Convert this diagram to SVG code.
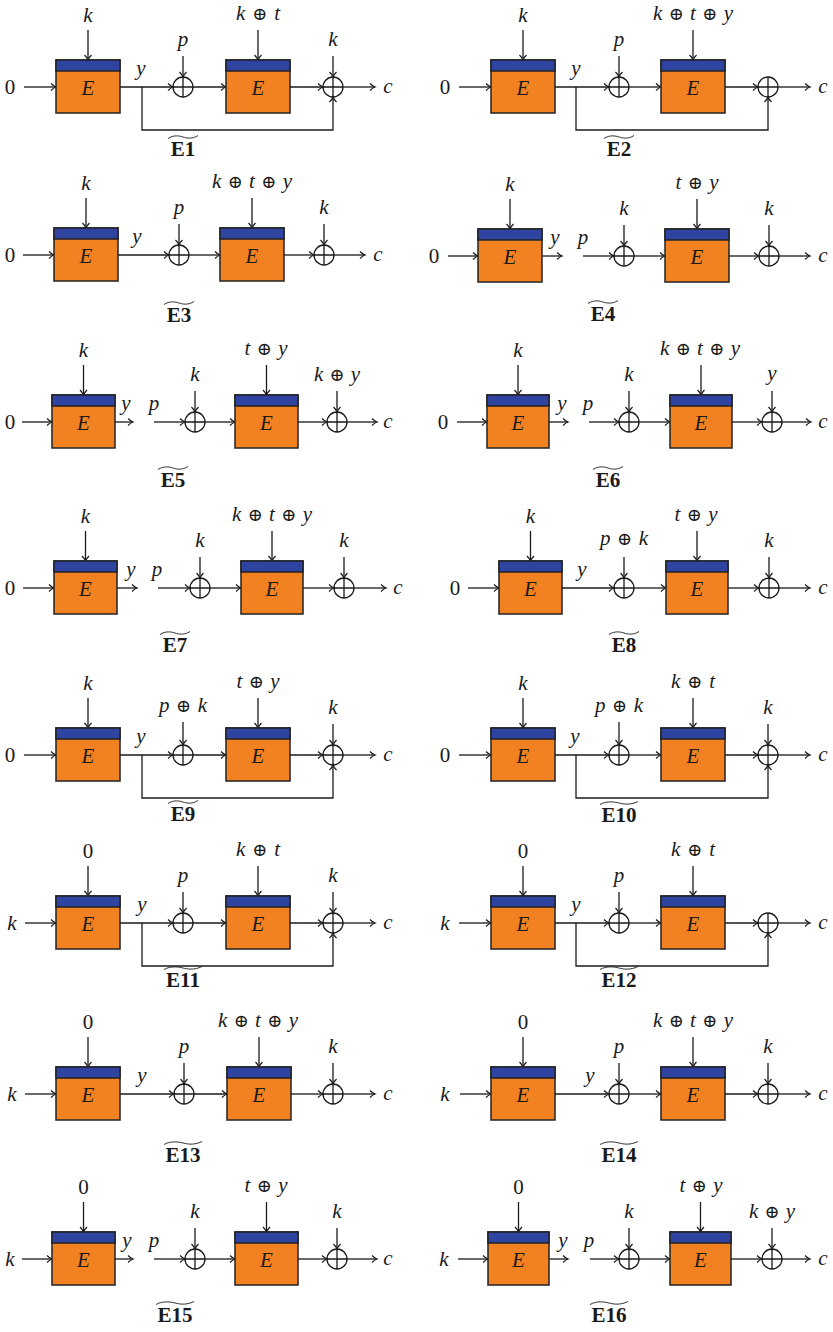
<svg xmlns="http://www.w3.org/2000/svg" width="833" height="1332" viewBox="0 0 833 1332">
<style>
.ln{fill:none;stroke:#1a1a1a;stroke-width:1.3}
.ar{fill:none;stroke:#1a1a1a;stroke-width:1.3;marker-end:url(#ah)}
.body{fill:#F28221;stroke:#222;stroke-width:1.5}
.band{fill:#2E44A0;stroke:#222;stroke-width:1.5}
.xc{fill:none;stroke:#1a1a1a;stroke-width:1.3}
text{font-family:'Liberation Serif','Times New Roman','DejaVu Serif',serif;fill:#1a1a1a;text-anchor:middle}
.m{font-style:italic;font-size:21px}
.n{font-size:21px}
.o{font-family:'DejaVu Serif','DejaVu Sans',serif;font-style:normal;font-size:18px}
.t{font-weight:bold;font-size:21px}
.tl{fill:none;stroke:#1a1a1a;stroke-width:0.9}
</style>
<defs>
<marker id="ah" viewBox="-6 -5 8 10" markerWidth="8" markerHeight="10" refX="0" refY="0" orient="auto" markerUnits="userSpaceOnUse">
<path d="M-5,-3.5 Q-2,-0.6 0,0 Q-2,0.6 -5,3.5" fill="none" stroke="#1a1a1a" stroke-width="1.2"/>
</marker>
</defs>

<!-- E1 -->
<g id="E1">
<g id="E1-conn">
<line class="ar" x1="24" y1="87" x2="56" y2="87"/>
<line class="ar" x1="88" y1="30" x2="88" y2="60"/>
<line class="ar" x1="120" y1="87" x2="173" y2="87"/>
<line class="ar" x1="183" y1="56" x2="183" y2="77"/>
<line class="ar" x1="193" y1="87" x2="226" y2="87"/>
<line class="ar" x1="258" y1="30" x2="258" y2="60"/>
<line class="ar" x1="290" y1="87" x2="323" y2="87"/>
<line class="ar" x1="333" y1="56" x2="333" y2="77"/>
<line class="ar" x1="343" y1="87" x2="375" y2="87"/>
<path class="ar" d="M142,87 V130 H333 V97"/>
</g>
<g id="E1-b1"><rect class="body" x="56" y="60" width="64" height="53"/><rect class="band" x="56" y="60" width="64" height="11"/><text class="m" x="88" y="95">E</text></g>
<g id="E1-x1"><circle class="xc" cx="183" cy="87" r="10"/><path class="ln" d="M173,87 H193 M183,77 V97"/></g>
<g id="E1-b2"><rect class="body" x="226" y="60" width="64" height="53"/><rect class="band" x="226" y="60" width="64" height="11"/><text class="m" x="258" y="95">E</text></g>
<g id="E1-x2"><circle class="xc" cx="333" cy="87" r="10"/><path class="ln" d="M323,87 H343 M333,77 V97"/></g>
<text class="n" x="10" y="94">0</text>
<text class="m" x="88" y="22">k</text>
<text class="m" x="141" y="75">y</text>
<text class="m" x="183" y="46">p</text>
<text class="m" x="258" y="20" textLength="44" lengthAdjust="spacing">k <tspan class="o">⊕</tspan> t</text>
<text class="m" x="333" y="46">k</text>
<text class="m" x="388" y="93">c</text>
<path class="tl" d="M168,138.5 C174,134.5 180,136 183,137 S192,139.5 198,135.5"/>
<text class="t" x="183" y="156">E1</text>
</g>

<!-- E2 -->
<g id="E2">
<g id="E2-conn">
<line class="ar" x1="459" y1="87" x2="491" y2="87"/>
<line class="ar" x1="523" y1="30" x2="523" y2="60"/>
<line class="ar" x1="555" y1="87" x2="609" y2="87"/>
<line class="ar" x1="619" y1="56" x2="619" y2="77"/>
<line class="ar" x1="629" y1="87" x2="661" y2="87"/>
<line class="ar" x1="693" y1="30" x2="693" y2="60"/>
<line class="ar" x1="725" y1="87" x2="758" y2="87"/>
<line class="ar" x1="778" y1="87" x2="810" y2="87"/>
<path class="ar" d="M576,87 V130 H768 V97"/>
</g>
<g id="E2-b1"><rect class="body" x="491" y="60" width="64" height="53"/><rect class="band" x="491" y="60" width="64" height="11"/><text class="m" x="523" y="95">E</text></g>
<g id="E2-x1"><circle class="xc" cx="619" cy="87" r="10"/><path class="ln" d="M609,87 H629 M619,77 V97"/></g>
<g id="E2-b2"><rect class="body" x="661" y="60" width="64" height="53"/><rect class="band" x="661" y="60" width="64" height="11"/><text class="m" x="693" y="95">E</text></g>
<g id="E2-x2"><circle class="xc" cx="768" cy="87" r="10"/><path class="ln" d="M758,87 H778 M768,77 V97"/></g>
<text class="n" x="445" y="94">0</text>
<text class="m" x="523" y="22">k</text>
<text class="m" x="576" y="75">y</text>
<text class="m" x="619" y="46">p</text>
<text class="m" x="693" y="20" textLength="80" lengthAdjust="spacing">k <tspan class="o">⊕</tspan> t <tspan class="o">⊕</tspan> y</text>
<text class="m" x="823" y="93">c</text>
<path class="tl" d="M604,138.5 C610,134.5 616,136 619,137 S628,139.5 634,135.5"/>
<text class="t" x="619" y="156">E2</text>
</g>

<!-- E3 -->
<g id="E3">
<g id="E3-conn">
<line class="ar" x1="23" y1="255" x2="54" y2="255"/>
<line class="ar" x1="86" y1="198" x2="86" y2="228"/>
<line class="ar" x1="118" y1="255" x2="169" y2="255"/>
<line class="ar" x1="179" y1="224" x2="179" y2="245"/>
<line class="ar" x1="189" y1="255" x2="220" y2="255"/>
<line class="ar" x1="252" y1="198" x2="252" y2="228"/>
<line class="ar" x1="284" y1="255" x2="314" y2="255"/>
<line class="ar" x1="324" y1="224" x2="324" y2="245"/>
<line class="ar" x1="334" y1="255" x2="365" y2="255"/>
</g>
<g id="E3-b1"><rect class="body" x="54" y="228" width="64" height="53"/><rect class="band" x="54" y="228" width="64" height="11"/><text class="m" x="86" y="263">E</text></g>
<g id="E3-x1"><circle class="xc" cx="179" cy="255" r="10"/><path class="ln" d="M169,255 H189 M179,245 V265"/></g>
<g id="E3-b2"><rect class="body" x="220" y="228" width="64" height="53"/><rect class="band" x="220" y="228" width="64" height="11"/><text class="m" x="252" y="263">E</text></g>
<g id="E3-x2"><circle class="xc" cx="324" cy="255" r="10"/><path class="ln" d="M314,255 H334 M324,245 V265"/></g>
<text class="n" x="10" y="262">0</text>
<text class="m" x="86" y="190">k</text>
<text class="m" x="137" y="243">y</text>
<text class="m" x="179" y="214">p</text>
<text class="m" x="252" y="188" textLength="80" lengthAdjust="spacing">k <tspan class="o">⊕</tspan> t <tspan class="o">⊕</tspan> y</text>
<text class="m" x="324" y="214">k</text>
<text class="m" x="378" y="261">c</text>
<path class="tl" d="M164,304.5 C170,300.5 176,302 179,303 S188,305.5 194,301.5"/>
<text class="t" x="179" y="322">E3</text>
</g>

<!-- E4 -->
<g id="E4">
<g id="E4-conn">
<line class="ar" x1="448" y1="256" x2="478" y2="256"/>
<line class="ar" x1="510" y1="199" x2="510" y2="229"/>
<line class="ar" x1="542" y1="256" x2="562" y2="256"/>
<line class="ar" x1="583" y1="256" x2="614" y2="256"/>
<line class="ar" x1="624" y1="225" x2="624" y2="246"/>
<line class="ar" x1="634" y1="256" x2="665" y2="256"/>
<line class="ar" x1="697" y1="199" x2="697" y2="229"/>
<line class="ar" x1="729" y1="256" x2="759" y2="256"/>
<line class="ar" x1="769" y1="225" x2="769" y2="246"/>
<line class="ar" x1="779" y1="256" x2="810" y2="256"/>
</g>
<g id="E4-b1"><rect class="body" x="478" y="229" width="64" height="53"/><rect class="band" x="478" y="229" width="64" height="11"/><text class="m" x="510" y="264">E</text></g>
<g id="E4-x1"><circle class="xc" cx="624" cy="256" r="10"/><path class="ln" d="M614,256 H634 M624,246 V266"/></g>
<g id="E4-b2"><rect class="body" x="665" y="229" width="64" height="53"/><rect class="band" x="665" y="229" width="64" height="11"/><text class="m" x="697" y="264">E</text></g>
<g id="E4-x2"><circle class="xc" cx="769" cy="256" r="10"/><path class="ln" d="M759,256 H779 M769,246 V266"/></g>
<text class="n" x="434" y="263">0</text>
<text class="m" x="510" y="191">k</text>
<text class="m" x="555" y="244">y</text>
<text class="m" x="583" y="244">p</text>
<text class="m" x="624" y="215">k</text>
<text class="m" x="697" y="189" textLength="43" lengthAdjust="spacing">t <tspan class="o">⊕</tspan> y</text>
<text class="m" x="769" y="215">k</text>
<text class="m" x="823" y="262">c</text>
<path class="tl" d="M588,303.5 C594,299.5 600,301 603,302 S612,304.5 618,300.5"/>
<text class="t" x="603" y="321">E4</text>
</g>

<!-- E5 -->
<g id="E5">
<g id="E5-conn">
<line class="ar" x1="22" y1="422" x2="52" y2="422"/>
<line class="ar" x1="83.5" y1="365" x2="83.5" y2="395"/>
<line class="ar" x1="115" y1="422" x2="133" y2="422"/>
<line class="ar" x1="154" y1="422" x2="185" y2="422"/>
<line class="ar" x1="195" y1="391" x2="195" y2="412"/>
<line class="ar" x1="205" y1="422" x2="235" y2="422"/>
<line class="ar" x1="266.5" y1="365" x2="266.5" y2="395"/>
<line class="ar" x1="298" y1="422" x2="327" y2="422"/>
<line class="ar" x1="337" y1="391" x2="337" y2="412"/>
<line class="ar" x1="347" y1="422" x2="377" y2="422"/>
</g>
<g id="E5-b1"><rect class="body" x="52" y="395" width="63" height="53"/><rect class="band" x="52" y="395" width="63" height="11"/><text class="m" x="83.5" y="430">E</text></g>
<g id="E5-x1"><circle class="xc" cx="195" cy="422" r="10"/><path class="ln" d="M185,422 H205 M195,412 V432"/></g>
<g id="E5-b2"><rect class="body" x="235" y="395" width="63" height="53"/><rect class="band" x="235" y="395" width="63" height="11"/><text class="m" x="266.5" y="430">E</text></g>
<g id="E5-x2"><circle class="xc" cx="337" cy="422" r="10"/><path class="ln" d="M327,422 H347 M337,412 V432"/></g>
<text class="n" x="10" y="429">0</text>
<text class="m" x="83.5" y="357">k</text>
<text class="m" x="126" y="410">y</text>
<text class="m" x="154" y="410">p</text>
<text class="m" x="195" y="381">k</text>
<text class="m" x="266" y="355" textLength="43" lengthAdjust="spacing">t <tspan class="o">⊕</tspan> y</text>
<text class="m" x="337" y="381" textLength="46" lengthAdjust="spacing">k <tspan class="o">⊕</tspan> y</text>
<text class="m" x="388" y="428">c</text>
<path class="tl" d="M158,469.5 C164,465.5 170,467 173,468 S182,470.5 188,466.5"/>
<text class="t" x="173" y="487">E5</text>
</g>

<!-- E6 -->
<g id="E6">
<g id="E6-conn">
<line class="ar" x1="457" y1="422" x2="487" y2="422"/>
<line class="ar" x1="518" y1="365" x2="518" y2="395"/>
<line class="ar" x1="549" y1="422" x2="568" y2="422"/>
<line class="ar" x1="589" y1="422" x2="619" y2="422"/>
<line class="ar" x1="629" y1="391" x2="629" y2="412"/>
<line class="ar" x1="639" y1="422" x2="670" y2="422"/>
<line class="ar" x1="701" y1="365" x2="701" y2="395"/>
<line class="ar" x1="732" y1="422" x2="762" y2="422"/>
<line class="ar" x1="772" y1="391" x2="772" y2="412"/>
<line class="ar" x1="782" y1="422" x2="811" y2="422"/>
</g>
<g id="E6-b1"><rect class="body" x="487" y="395" width="62" height="53"/><rect class="band" x="487" y="395" width="62" height="11"/><text class="m" x="518" y="430">E</text></g>
<g id="E6-x1"><circle class="xc" cx="629" cy="422" r="10"/><path class="ln" d="M619,422 H639 M629,412 V432"/></g>
<g id="E6-b2"><rect class="body" x="670" y="395" width="62" height="53"/><rect class="band" x="670" y="395" width="62" height="11"/><text class="m" x="701" y="430">E</text></g>
<g id="E6-x2"><circle class="xc" cx="772" cy="422" r="10"/><path class="ln" d="M762,422 H782 M772,412 V432"/></g>
<text class="n" x="443" y="429">0</text>
<text class="m" x="518" y="357">k</text>
<text class="m" x="562" y="410">y</text>
<text class="m" x="588" y="410">p</text>
<text class="m" x="629" y="381">k</text>
<text class="m" x="700" y="355" textLength="80" lengthAdjust="spacing">k <tspan class="o">⊕</tspan> t <tspan class="o">⊕</tspan> y</text>
<text class="m" x="772" y="380">y</text>
<text class="m" x="823" y="428">c</text>
<path class="tl" d="M593,469.5 C599,465.5 605,467 608,468 S617,470.5 623,466.5"/>
<text class="t" x="608" y="487">E6</text>
</g>

<!-- E7 -->
<g id="E7">
<g id="E7-conn">
<line class="ar" x1="23" y1="588" x2="54" y2="588"/>
<line class="ar" x1="85.5" y1="531" x2="85.5" y2="561"/>
<line class="ar" x1="117" y1="588" x2="137" y2="588"/>
<line class="ar" x1="158" y1="588" x2="190" y2="588"/>
<line class="ar" x1="200" y1="557" x2="200" y2="578"/>
<line class="ar" x1="210" y1="588" x2="241" y2="588"/>
<line class="ar" x1="272" y1="531" x2="272" y2="561"/>
<line class="ar" x1="303" y1="588" x2="334" y2="588"/>
<line class="ar" x1="344" y1="557" x2="344" y2="578"/>
<line class="ar" x1="354" y1="588" x2="386" y2="588"/>
</g>
<g id="E7-b1"><rect class="body" x="54" y="561" width="63" height="53"/><rect class="band" x="54" y="561" width="63" height="11"/><text class="m" x="85.5" y="596">E</text></g>
<g id="E7-x1"><circle class="xc" cx="200" cy="588" r="10"/><path class="ln" d="M190,588 H210 M200,578 V598"/></g>
<g id="E7-b2"><rect class="body" x="241" y="561" width="62" height="53"/><rect class="band" x="241" y="561" width="62" height="11"/><text class="m" x="272" y="596">E</text></g>
<g id="E7-x2"><circle class="xc" cx="344" cy="588" r="10"/><path class="ln" d="M334,588 H354 M344,578 V598"/></g>
<text class="n" x="10" y="595">0</text>
<text class="m" x="85.5" y="523">k</text>
<text class="m" x="131" y="576">y</text>
<text class="m" x="157" y="576">p</text>
<text class="m" x="200" y="547">k</text>
<text class="m" x="272" y="521" textLength="80" lengthAdjust="spacing">k <tspan class="o">⊕</tspan> t <tspan class="o">⊕</tspan> y</text>
<text class="m" x="344" y="547">k</text>
<text class="m" x="398" y="594">c</text>
<path class="tl" d="M160,634.5 C166,630.5 172,632 175,633 S184,635.5 190,631.5"/>
<text class="t" x="175" y="652">E7</text>
</g>

<!-- E8 -->
<g id="E8">
<g id="E8-conn">
<line class="ar" x1="468" y1="588" x2="499" y2="588"/>
<line class="ar" x1="530.5" y1="531" x2="530.5" y2="561"/>
<line class="ar" x1="562" y1="588" x2="614" y2="588"/>
<line class="ar" x1="624" y1="557" x2="624" y2="578"/>
<line class="ar" x1="634" y1="588" x2="666" y2="588"/>
<line class="ar" x1="697" y1="531" x2="697" y2="561"/>
<line class="ar" x1="728" y1="588" x2="759" y2="588"/>
<line class="ar" x1="769" y1="557" x2="769" y2="578"/>
<line class="ar" x1="779" y1="588" x2="810" y2="588"/>
</g>
<g id="E8-b1"><rect class="body" x="499" y="561" width="63" height="53"/><rect class="band" x="499" y="561" width="63" height="11"/><text class="m" x="530.5" y="596">E</text></g>
<g id="E8-x1"><circle class="xc" cx="624" cy="588" r="10"/><path class="ln" d="M614,588 H634 M624,578 V598"/></g>
<g id="E8-b2"><rect class="body" x="666" y="561" width="62" height="53"/><rect class="band" x="666" y="561" width="62" height="11"/><text class="m" x="697" y="596">E</text></g>
<g id="E8-x2"><circle class="xc" cx="769" cy="588" r="10"/><path class="ln" d="M759,588 H779 M769,578 V598"/></g>
<text class="n" x="455" y="595">0</text>
<text class="m" x="530.5" y="523">k</text>
<text class="m" x="582" y="576">y</text>
<text class="m" x="624" y="545" textLength="48" lengthAdjust="spacing">p <tspan class="o">⊕</tspan> k</text>
<text class="m" x="696" y="521" textLength="43" lengthAdjust="spacing">t <tspan class="o">⊕</tspan> y</text>
<text class="m" x="769" y="547">k</text>
<text class="m" x="823" y="594">c</text>
<path class="tl" d="M609,634.5 C615,630.5 621,632 624,633 S633,635.5 639,631.5"/>
<text class="t" x="624" y="652">E8</text>
</g>

<!-- E9 -->
<g id="E9">
<g id="E9-conn">
<line class="ar" x1="24" y1="755" x2="56" y2="755"/>
<line class="ar" x1="88" y1="698" x2="88" y2="728"/>
<line class="ar" x1="120" y1="755" x2="173" y2="755"/>
<line class="ar" x1="183" y1="722" x2="183" y2="745"/>
<line class="ar" x1="193" y1="755" x2="226" y2="755"/>
<line class="ar" x1="258" y1="698" x2="258" y2="728"/>
<line class="ar" x1="290" y1="755" x2="323" y2="755"/>
<line class="ar" x1="333" y1="724" x2="333" y2="745"/>
<line class="ar" x1="343" y1="755" x2="375" y2="755"/>
<path class="ar" d="M142,755 V798 H333 V765"/>
</g>
<g id="E9-b1"><rect class="body" x="56" y="728" width="64" height="53"/><rect class="band" x="56" y="728" width="64" height="11"/><text class="m" x="88" y="763">E</text></g>
<g id="E9-x1"><circle class="xc" cx="183" cy="755" r="10"/><path class="ln" d="M173,755 H193 M183,745 V765"/></g>
<g id="E9-b2"><rect class="body" x="226" y="728" width="64" height="53"/><rect class="band" x="226" y="728" width="64" height="11"/><text class="m" x="258" y="763">E</text></g>
<g id="E9-x2"><circle class="xc" cx="333" cy="755" r="10"/><path class="ln" d="M323,755 H343 M333,745 V765"/></g>
<text class="n" x="10" y="762">0</text>
<text class="m" x="88" y="690">k</text>
<text class="m" x="141" y="743">y</text>
<text class="m" x="183" y="712" textLength="48" lengthAdjust="spacing">p <tspan class="o">⊕</tspan> k</text>
<text class="m" x="258" y="688" textLength="43" lengthAdjust="spacing">t <tspan class="o">⊕</tspan> y</text>
<text class="m" x="333" y="714">k</text>
<text class="m" x="388" y="761">c</text>
<path class="tl" d="M168,803.5 C174,799.5 180,801 183,802 S192,804.5 198,800.5"/>
<text class="t" x="183" y="821">E9</text>
</g>

<!-- E10 -->
<g id="E10">
<g id="E10-conn">
<line class="ar" x1="459" y1="755" x2="491" y2="755"/>
<line class="ar" x1="523" y1="698" x2="523" y2="728"/>
<line class="ar" x1="555" y1="755" x2="609" y2="755"/>
<line class="ar" x1="619" y1="722" x2="619" y2="745"/>
<line class="ar" x1="629" y1="755" x2="661" y2="755"/>
<line class="ar" x1="693" y1="698" x2="693" y2="728"/>
<line class="ar" x1="725" y1="755" x2="758" y2="755"/>
<line class="ar" x1="768" y1="724" x2="768" y2="745"/>
<line class="ar" x1="778" y1="755" x2="810" y2="755"/>
<path class="ar" d="M576,755 V798 H768 V765"/>
</g>
<g id="E10-b1"><rect class="body" x="491" y="728" width="64" height="53"/><rect class="band" x="491" y="728" width="64" height="11"/><text class="m" x="523" y="763">E</text></g>
<g id="E10-x1"><circle class="xc" cx="619" cy="755" r="10"/><path class="ln" d="M609,755 H629 M619,745 V765"/></g>
<g id="E10-b2"><rect class="body" x="661" y="728" width="64" height="53"/><rect class="band" x="661" y="728" width="64" height="11"/><text class="m" x="693" y="763">E</text></g>
<g id="E10-x2"><circle class="xc" cx="768" cy="755" r="10"/><path class="ln" d="M758,755 H778 M768,745 V765"/></g>
<text class="n" x="445" y="762">0</text>
<text class="m" x="523" y="690">k</text>
<text class="m" x="575" y="743">y</text>
<text class="m" x="619" y="712" textLength="48" lengthAdjust="spacing">p <tspan class="o">⊕</tspan> k</text>
<text class="m" x="693" y="688" textLength="44" lengthAdjust="spacing">k <tspan class="o">⊕</tspan> t</text>
<text class="m" x="768" y="714">k</text>
<text class="m" x="823" y="761">c</text>
<path class="tl" d="M600,804.5 C607,800.5 615,802 619,803 S630,805.5 638,801.5"/>
<text class="t" x="619" y="822">E10</text>
</g>

<!-- E11 -->
<g id="E11">
<g id="E11-conn">
<line class="ar" x1="25" y1="923" x2="56" y2="923"/>
<line class="ar" x1="88" y1="866" x2="88" y2="896"/>
<line class="ar" x1="120" y1="923" x2="173" y2="923"/>
<line class="ar" x1="183" y1="892" x2="183" y2="913"/>
<line class="ar" x1="193" y1="923" x2="226" y2="923"/>
<line class="ar" x1="258" y1="866" x2="258" y2="896"/>
<line class="ar" x1="290" y1="923" x2="323" y2="923"/>
<line class="ar" x1="333" y1="892" x2="333" y2="913"/>
<line class="ar" x1="343" y1="923" x2="375" y2="923"/>
<path class="ar" d="M142,923 V966 H333 V933"/>
</g>
<g id="E11-b1"><rect class="body" x="56" y="896" width="64" height="53"/><rect class="band" x="56" y="896" width="64" height="11"/><text class="m" x="88" y="931">E</text></g>
<g id="E11-x1"><circle class="xc" cx="183" cy="923" r="10"/><path class="ln" d="M173,923 H193 M183,913 V933"/></g>
<g id="E11-b2"><rect class="body" x="226" y="896" width="64" height="53"/><rect class="band" x="226" y="896" width="64" height="11"/><text class="m" x="258" y="931">E</text></g>
<g id="E11-x2"><circle class="xc" cx="333" cy="923" r="10"/><path class="ln" d="M323,923 H343 M333,913 V933"/></g>
<text class="m" x="12" y="930">k</text>
<text class="n" x="88" y="858">0</text>
<text class="m" x="142" y="911">y</text>
<text class="m" x="183" y="882">p</text>
<text class="m" x="258" y="856" textLength="44" lengthAdjust="spacing">k <tspan class="o">⊕</tspan> t</text>
<text class="m" x="333" y="882">k</text>
<text class="m" x="388" y="929">c</text>
<path class="tl" d="M164,969.5 C171,965.5 179,967 183,968 S194,970.5 202,966.5"/>
<text class="t" x="183" y="987">E11</text>
</g>

<!-- E12 -->
<g id="E12">
<g id="E12-conn">
<line class="ar" x1="459" y1="923" x2="491" y2="923"/>
<line class="ar" x1="523" y1="866" x2="523" y2="896"/>
<line class="ar" x1="555" y1="923" x2="609" y2="923"/>
<line class="ar" x1="619" y1="892" x2="619" y2="913"/>
<line class="ar" x1="629" y1="923" x2="661" y2="923"/>
<line class="ar" x1="693" y1="866" x2="693" y2="896"/>
<line class="ar" x1="725" y1="923" x2="758" y2="923"/>
<line class="ar" x1="778" y1="923" x2="810" y2="923"/>
<path class="ar" d="M576,923 V966 H768 V933"/>
</g>
<g id="E12-b1"><rect class="body" x="491" y="896" width="64" height="53"/><rect class="band" x="491" y="896" width="64" height="11"/><text class="m" x="523" y="931">E</text></g>
<g id="E12-x1"><circle class="xc" cx="619" cy="923" r="10"/><path class="ln" d="M609,923 H629 M619,913 V933"/></g>
<g id="E12-b2"><rect class="body" x="661" y="896" width="64" height="53"/><rect class="band" x="661" y="896" width="64" height="11"/><text class="m" x="693" y="931">E</text></g>
<g id="E12-x2"><circle class="xc" cx="768" cy="923" r="10"/><path class="ln" d="M758,923 H778 M768,913 V933"/></g>
<text class="m" x="445" y="930">k</text>
<text class="n" x="523" y="858">0</text>
<text class="m" x="576" y="911">y</text>
<text class="m" x="619" y="882">p</text>
<text class="m" x="693" y="856" textLength="44" lengthAdjust="spacing">k <tspan class="o">⊕</tspan> t</text>
<text class="m" x="823" y="929">c</text>
<path class="tl" d="M600,969.5 C607,965.5 615,967 619,968 S630,970.5 638,966.5"/>
<text class="t" x="619" y="987">E12</text>
</g>

<!-- E13 -->
<g id="E13">
<g id="E13-conn">
<line class="ar" x1="25" y1="1094" x2="56" y2="1094"/>
<line class="ar" x1="88" y1="1037" x2="88" y2="1067"/>
<line class="ar" x1="120" y1="1094" x2="174" y2="1094"/>
<line class="ar" x1="184" y1="1063" x2="184" y2="1084"/>
<line class="ar" x1="194" y1="1094" x2="227" y2="1094"/>
<line class="ar" x1="259" y1="1037" x2="259" y2="1067"/>
<line class="ar" x1="291" y1="1094" x2="323" y2="1094"/>
<line class="ar" x1="333" y1="1063" x2="333" y2="1084"/>
<line class="ar" x1="343" y1="1094" x2="375" y2="1094"/>
</g>
<g id="E13-b1"><rect class="body" x="56" y="1067" width="64" height="53"/><rect class="band" x="56" y="1067" width="64" height="11"/><text class="m" x="88" y="1102">E</text></g>
<g id="E13-x1"><circle class="xc" cx="184" cy="1094" r="10"/><path class="ln" d="M174,1094 H194 M184,1084 V1104"/></g>
<g id="E13-b2"><rect class="body" x="227" y="1067" width="64" height="53"/><rect class="band" x="227" y="1067" width="64" height="11"/><text class="m" x="259" y="1102">E</text></g>
<g id="E13-x2"><circle class="xc" cx="333" cy="1094" r="10"/><path class="ln" d="M323,1094 H343 M333,1084 V1104"/></g>
<text class="m" x="12" y="1101">k</text>
<text class="n" x="88" y="1029">0</text>
<text class="m" x="142" y="1082">y</text>
<text class="m" x="184" y="1053">p</text>
<text class="m" x="258" y="1027" textLength="80" lengthAdjust="spacing">k <tspan class="o">⊕</tspan> t <tspan class="o">⊕</tspan> y</text>
<text class="m" x="333" y="1053">k</text>
<text class="m" x="388" y="1100">c</text>
<path class="tl" d="M164,1144.5 C171,1140.5 179,1142 183,1143 S194,1145.5 202,1141.5"/>
<text class="t" x="183" y="1162">E13</text>
</g>

<!-- E14 -->
<g id="E14">
<g id="E14-conn">
<line class="ar" x1="460" y1="1094" x2="491" y2="1094"/>
<line class="ar" x1="523" y1="1037" x2="523" y2="1067"/>
<line class="ar" x1="555" y1="1094" x2="609" y2="1094"/>
<line class="ar" x1="619" y1="1063" x2="619" y2="1084"/>
<line class="ar" x1="629" y1="1094" x2="661" y2="1094"/>
<line class="ar" x1="693" y1="1037" x2="693" y2="1067"/>
<line class="ar" x1="725" y1="1094" x2="758" y2="1094"/>
<line class="ar" x1="768" y1="1063" x2="768" y2="1084"/>
<line class="ar" x1="778" y1="1094" x2="810" y2="1094"/>
</g>
<g id="E14-b1"><rect class="body" x="491" y="1067" width="64" height="53"/><rect class="band" x="491" y="1067" width="64" height="11"/><text class="m" x="523" y="1102">E</text></g>
<g id="E14-x1"><circle class="xc" cx="619" cy="1094" r="10"/><path class="ln" d="M609,1094 H629 M619,1084 V1104"/></g>
<g id="E14-b2"><rect class="body" x="661" y="1067" width="64" height="53"/><rect class="band" x="661" y="1067" width="64" height="11"/><text class="m" x="693" y="1102">E</text></g>
<g id="E14-x2"><circle class="xc" cx="768" cy="1094" r="10"/><path class="ln" d="M758,1094 H778 M768,1084 V1104"/></g>
<text class="m" x="445" y="1101">k</text>
<text class="n" x="523" y="1029">0</text>
<text class="m" x="590" y="1082">y</text>
<text class="m" x="619" y="1053">p</text>
<text class="m" x="693" y="1027" textLength="80" lengthAdjust="spacing">k <tspan class="o">⊕</tspan> t <tspan class="o">⊕</tspan> y</text>
<text class="m" x="768" y="1053">k</text>
<text class="m" x="823" y="1100">c</text>
<path class="tl" d="M600,1144.5 C607,1140.5 615,1142 619,1143 S630,1145.5 638,1141.5"/>
<text class="t" x="619" y="1162">E14</text>
</g>

<!-- E15 -->
<g id="E15">
<g id="E15-conn">
<line class="ar" x1="22" y1="1259" x2="52" y2="1259"/>
<line class="ar" x1="83.5" y1="1202" x2="83.5" y2="1232"/>
<line class="ar" x1="115" y1="1259" x2="133" y2="1259"/>
<line class="ar" x1="154" y1="1259" x2="185" y2="1259"/>
<line class="ar" x1="195" y1="1228" x2="195" y2="1249"/>
<line class="ar" x1="205" y1="1259" x2="235" y2="1259"/>
<line class="ar" x1="266.5" y1="1202" x2="266.5" y2="1232"/>
<line class="ar" x1="298" y1="1259" x2="327" y2="1259"/>
<line class="ar" x1="337" y1="1228" x2="337" y2="1249"/>
<line class="ar" x1="347" y1="1259" x2="377" y2="1259"/>
</g>
<g id="E15-b1"><rect class="body" x="52" y="1232" width="63" height="53"/><rect class="band" x="52" y="1232" width="63" height="11"/><text class="m" x="83.5" y="1267">E</text></g>
<g id="E15-x1"><circle class="xc" cx="195" cy="1259" r="10"/><path class="ln" d="M185,1259 H205 M195,1249 V1269"/></g>
<g id="E15-b2"><rect class="body" x="235" y="1232" width="63" height="53"/><rect class="band" x="235" y="1232" width="63" height="11"/><text class="m" x="266.5" y="1267">E</text></g>
<g id="E15-x2"><circle class="xc" cx="337" cy="1259" r="10"/><path class="ln" d="M327,1259 H347 M337,1249 V1269"/></g>
<text class="m" x="10" y="1266">k</text>
<text class="n" x="83.5" y="1194">0</text>
<text class="m" x="127" y="1247">y</text>
<text class="m" x="154" y="1247">p</text>
<text class="m" x="195" y="1218">k</text>
<text class="m" x="266" y="1192" textLength="43" lengthAdjust="spacing">t <tspan class="o">⊕</tspan> y</text>
<text class="m" x="337" y="1218">k</text>
<text class="m" x="388" y="1265">c</text>
<path class="tl" d="M156,1304.5 C163,1300.5 171,1302 175,1303 S186,1305.5 194,1301.5"/>
<text class="t" x="175" y="1322">E15</text>
</g>

<!-- E16 -->
<g id="E16">
<g id="E16-conn">
<line class="ar" x1="458" y1="1259" x2="488" y2="1259"/>
<line class="ar" x1="518.5" y1="1202" x2="518.5" y2="1232"/>
<line class="ar" x1="549" y1="1259" x2="568" y2="1259"/>
<line class="ar" x1="590" y1="1259" x2="619" y2="1259"/>
<line class="ar" x1="629" y1="1228" x2="629" y2="1249"/>
<line class="ar" x1="639" y1="1259" x2="670" y2="1259"/>
<line class="ar" x1="700.5" y1="1202" x2="700.5" y2="1232"/>
<line class="ar" x1="731" y1="1259" x2="762" y2="1259"/>
<line class="ar" x1="772" y1="1228" x2="772" y2="1249"/>
<line class="ar" x1="782" y1="1259" x2="810" y2="1259"/>
</g>
<g id="E16-b1"><rect class="body" x="488" y="1232" width="61" height="53"/><rect class="band" x="488" y="1232" width="61" height="11"/><text class="m" x="518.5" y="1267">E</text></g>
<g id="E16-x1"><circle class="xc" cx="629" cy="1259" r="10"/><path class="ln" d="M619,1259 H639 M629,1249 V1269"/></g>
<g id="E16-b2"><rect class="body" x="670" y="1232" width="61" height="53"/><rect class="band" x="670" y="1232" width="61" height="11"/><text class="m" x="700.5" y="1267">E</text></g>
<g id="E16-x2"><circle class="xc" cx="772" cy="1259" r="10"/><path class="ln" d="M762,1259 H782 M772,1249 V1269"/></g>
<text class="m" x="444" y="1266">k</text>
<text class="n" x="518.5" y="1194">0</text>
<text class="m" x="563" y="1247">y</text>
<text class="m" x="589" y="1247">p</text>
<text class="m" x="629" y="1218">k</text>
<text class="m" x="701" y="1192" textLength="43" lengthAdjust="spacing">t <tspan class="o">⊕</tspan> y</text>
<text class="m" x="772" y="1218" textLength="46" lengthAdjust="spacing">k <tspan class="o">⊕</tspan> y</text>
<text class="m" x="823" y="1265">c</text>
<path class="tl" d="M590,1304.5 C597,1300.5 605,1302 609,1303 S620,1305.5 628,1301.5"/>
<text class="t" x="609" y="1322">E16</text>
</g>
</svg>
